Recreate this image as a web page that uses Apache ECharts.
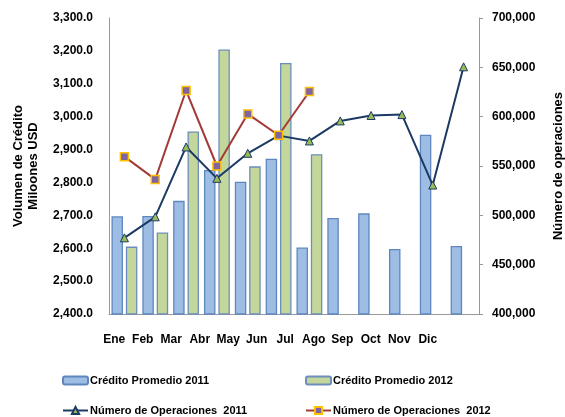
<!DOCTYPE html>
<html><head><meta charset="utf-8">
<script src="https://cdn.jsdelivr.net/npm/echarts@6/dist/echarts.min.js"></script>
<style>html,body{margin:0;padding:0;background:#fff}#c{width:565px;height:417px}</style>
</head><body><div id="c"></div>
<script>
var months = ['Ene','Feb','Mar','Abr','May','Jun','Jul','Ago','Sep','Oct','Nov','Dic'];
var credito2011 = [2697, 2698, 2744, 2838, 2802, 2872, 2602, 2692, 2706, 2598, 2945, 2607];
var credito2012 = [2605, 2648, 2955, 3204, 2849, 3163, 2886, null, null, null, null, null];
var ops2011 = [477200, 498500, 569300, 537500, 562900, 580800, 575400, 595700, 601200, 602100, 530700, 650500];
var ops2012 = [559500, 536400, 626500, 550000, 602800, 581200, 625500, null, null, null, null, null];
var names = ['Crédito Promedio 2011','Crédito Promedio 2012','Número de Operaciones  2011','Número de Operaciones  2012'];

var FONT = 'Liberation Sans';
var chart = echarts.init(document.getElementById('c'));
function leg(name, left, top, isLine) {
  return {
    data: [name], left: left, top: top, orient: 'horizontal', padding: 0,
    itemWidth: 25, itemHeight: isLine ? 9 : 8, itemGap: 4,
    textStyle: {fontFamily: FONT, fontWeight: 'bold', fontSize: 11, color: '#000', padding: [0,0,0,-3]},
    selectedMode: false
  };
}
chart.setOption({
  animation: false,
  backgroundColor: '#fff',
  textStyle: {fontFamily: FONT},
  grid: [
    {left: 109, right: 86, top: 18, bottom: 103, outerBoundsMode: 'none', containLabel: false},
    {left: 100, width: 342, top: 18, bottom: 103, outerBoundsMode: 'none', containLabel: false}
  ],
  legend: [
    leg(names[0], 62, 375, false),
    leg(names[1], 305, 375, false),
    leg(names[2], 62, 405, true),
    leg(names[3], 305, 405, true)
  ],
  xAxis: [
    {type: 'category', data: months, gridIndex: 0,
     axisLine: {lineStyle: {color: '#999', width: 1}},
     axisTick: {show: false}, axisLabel: {show: false}},
    {type: 'category', data: months, gridIndex: 1,
     axisLine: {show: false}, axisTick: {show: false},
     axisLabel: {interval: 0, fontFamily: FONT, fontWeight: 'bold', fontSize: 12, color: '#000', margin: 20}}
  ],
  yAxis: [
    {type: 'value', gridIndex: 0, min: 2400, max: 3300, interval: 100,
     name: 'Volumen de Crédito\nMiloones USD', nameLocation: 'middle', nameGap: 68, nameRotate: 90,
     nameTextStyle: {fontFamily: FONT, fontWeight: 'bold', fontSize: 13, color: '#000', lineHeight: 15},
     axisLine: {show: true, lineStyle: {color: '#999'}}, axisTick: {show: false},
     splitLine: {show: false},
     axisLabel: {fontFamily: FONT, fontWeight: 'bold', fontSize: 12, color: '#000', margin: 16,
       formatter: function(v){ return v.toLocaleString('en-US',{minimumFractionDigits:1,maximumFractionDigits:1}); }}},
    {type: 'value', gridIndex: 0, position: 'right', min: 400000, max: 700000, interval: 50000,
     name: 'Número de operaciones', nameLocation: 'middle', nameGap: 73, nameRotate: 90,
     nameTextStyle: {fontFamily: FONT, fontWeight: 'bold', fontSize: 13, color: '#000'},
     axisLine: {show: true, lineStyle: {color: '#999'}},
     axisTick: {show: true, length: 4, lineStyle: {color: '#999'}},
     splitLine: {show: false},
     axisLabel: {fontFamily: FONT, fontWeight: 'bold', fontSize: 12, color: '#000', margin: 13,
       formatter: function(v){ return v.toLocaleString('en-US'); }}},
    {type: 'value', gridIndex: 1, show: false}
  ],
  series: [
    {name: names[0], type: 'bar', data: credito2011, xAxisIndex: 0, yAxisIndex: 0,
     barWidth: 11.5, barGap: '25%',
     itemStyle: {color: '#9DBDE5', borderColor: '#5F87BE', borderWidth: 1.3}},
    {name: names[1], type: 'bar', data: credito2012, xAxisIndex: 0, yAxisIndex: 0,
     barWidth: 11.5, barGap: '25%',
     itemStyle: {color: '#C4D79B', borderColor: '#6D8EBC', borderWidth: 1.3}},
    {name: names[2], type: 'line', data: ops2011, xAxisIndex: 0, yAxisIndex: 1,
     symbol: 'triangle', symbolSize: 8, z: 5,
     lineStyle: {color: '#1C3A64', width: 2},
     itemStyle: {color: '#9BBB59', borderColor: '#1C3A64', borderWidth: 1}},
    {name: names[3], type: 'line', data: ops2012, xAxisIndex: 0, yAxisIndex: 1,
     symbol: 'rect', symbolSize: 8, z: 6,
     lineStyle: {color: '#A33A37', width: 2},
     itemStyle: {color: '#8064A2', borderColor: '#FFC000', borderWidth: 1.5}}
  ]
});
</script></body></html>
